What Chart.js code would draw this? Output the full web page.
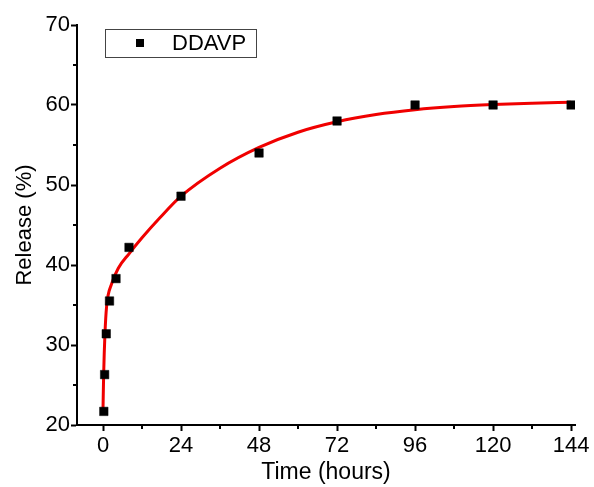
<!DOCTYPE html>
<html>
<head>
<meta charset="utf-8">
<script src="https://cdn.jsdelivr.net/npm/chart.js@4.4.0/dist/chart.umd.min.js"></script>
<style>
  html, body { margin: 0; padding: 0; background: #fff; }
</style>
</head>
<body>
<canvas id="myChart" width="594" height="487"></canvas>
<script>
// measured release (points)
const hours = [0.25, 0.5, 1, 2, 4, 8, 24, 48, 72, 96, 120, 144];
const release = [21.7, 26.3, 31.4, 35.5, 38.3, 42.2, 48.6, 54.0, 58.0, 60.0, 60.0, 60.0];

// fitted curve
const fitHours = [0, 0.2, 0.6, 1.1, 2.7, 4.7, 8, 12, 17.5, 24, 36, 48, 60, 72, 84, 96, 108, 120, 132, 144];
const fitRelease = [22.0, 26.3, 31.4, 34.8, 37.7, 39.6, 41.4, 43.4, 45.9, 48.6, 52.1, 54.7, 56.6, 57.9, 58.8, 59.4, 59.8, 60.05, 60.22, 60.35];

const xTicks = [0, 24, 48, 72, 96, 120, 144];
const xMinorTicks = [12, 36, 60, 84, 108, 132];
const yTicks = [20, 30, 40, 50, 60, 70];
const yMinorTicks = [25, 35, 45, 55, 65];
const seriesName = 'DDAVP';

Chart.defaults.font.family = 'Arial, "Liberation Sans", sans-serif';
Chart.defaults.color = '#000';
Chart.defaults.borderColor = '#000';

const minorTicks = {
  id: 'minorTicks',
  afterDraw(chart) {
    const ctx = chart.ctx;
    const xs = chart.scales.x, ys = chart.scales.y;
    ctx.save();
    ctx.strokeStyle = '#000';
    ctx.lineWidth = 2;
    ctx.beginPath();
    xMinorTicks.forEach(v => {
      const px = Math.round(xs.getPixelForValue(v));
      ctx.moveTo(px, xs.top);
      ctx.lineTo(px, xs.top + 4);
    });
    yMinorTicks.forEach(v => {
      const py = Math.round(ys.getPixelForValue(v));
      ctx.moveTo(ys.right, py);
      ctx.lineTo(ys.right - 4, py);
    });
    ctx.stroke();
    ctx.restore();
  }
};

const boxLegend = {
  id: 'boxLegend',
  afterDraw(chart) {
    const ctx = chart.ctx;
    const a = chart.chartArea;
    const x = a.left + 28, y = a.top + 4;
    ctx.save();
    ctx.strokeStyle = '#444';
    ctx.lineWidth = 1;
    ctx.strokeRect(x + 0.5, y + 0.5, 151, 28);
    ctx.fillStyle = '#000';
    ctx.fillRect(x + 31, y + 10, 8, 8);
    ctx.font = '22px Arial, "Liberation Sans", sans-serif';
    ctx.textBaseline = 'middle';
    ctx.fillText(seriesName, x + 67, y + 15);
    ctx.restore();
  }
};

new Chart(document.getElementById('myChart'), {
  type: 'scatter',
  data: {
    datasets: [{
      label: seriesName,
      data: hours.map((h, i) => ({ x: h, y: release[i] })),
      pointStyle: 'rect',
      pointRadius: 6,
      pointBackgroundColor: '#000',
      pointBorderColor: '#000',
      pointBorderWidth: 0.5
    }, {
      label: 'fit',
      data: fitHours.map((h, i) => ({ x: h, y: fitRelease[i] })),
      showLine: true,
      borderColor: '#f00000',
      borderWidth: 3,
      pointRadius: 0,
      cubicInterpolationMode: 'monotone'
    }]
  },
  options: {
    responsive: false,
    animation: false,
    devicePixelRatio: 1,
    layout: { padding: { top: 25, right: 19, left: 0, bottom: 0 } },
    plugins: { legend: { display: false }, tooltip: { enabled: false } },
    scales: {
      x: {
        type: 'linear',
        min: -8,
        max: 145.2,
        afterBuildTicks: s => { s.ticks = xTicks.map(v => ({ value: v })); },
        afterFit: s => { s.height = 62; },
        grid: { drawOnChartArea: false, tickLength: 6, color: '#000', tickColor: '#000', tickWidth: 2 },
        border: { display: true, color: '#000', width: 2 },
        ticks: { color: '#000', font: { size: 22 }, padding: 2, maxRotation: 0, autoSkip: false },
        title: { display: true, text: 'Time (hours)', color: '#000', font: { size: 23 }, padding: { top: 0, bottom: 1 } }
      },
      y: {
        type: 'linear',
        min: 20,
        max: 70,
        afterBuildTicks: s => { s.ticks = yTicks.map(v => ({ value: v })); },
        afterFit: s => { s.width = 77; },
        grid: { drawOnChartArea: false, tickLength: 6, color: '#000', tickColor: '#000', tickWidth: 2 },
        border: { display: true, color: '#000', width: 2 },
        ticks: { color: '#000', font: { size: 22 }, padding: 1 },
        title: { display: true, text: 'Release (%)', color: '#000', font: { size: 22 }, padding: { top: 12, bottom: 0 } }
      }
    }
  },
  plugins: [minorTicks, boxLegend]
});
</script>
</body>
</html>
